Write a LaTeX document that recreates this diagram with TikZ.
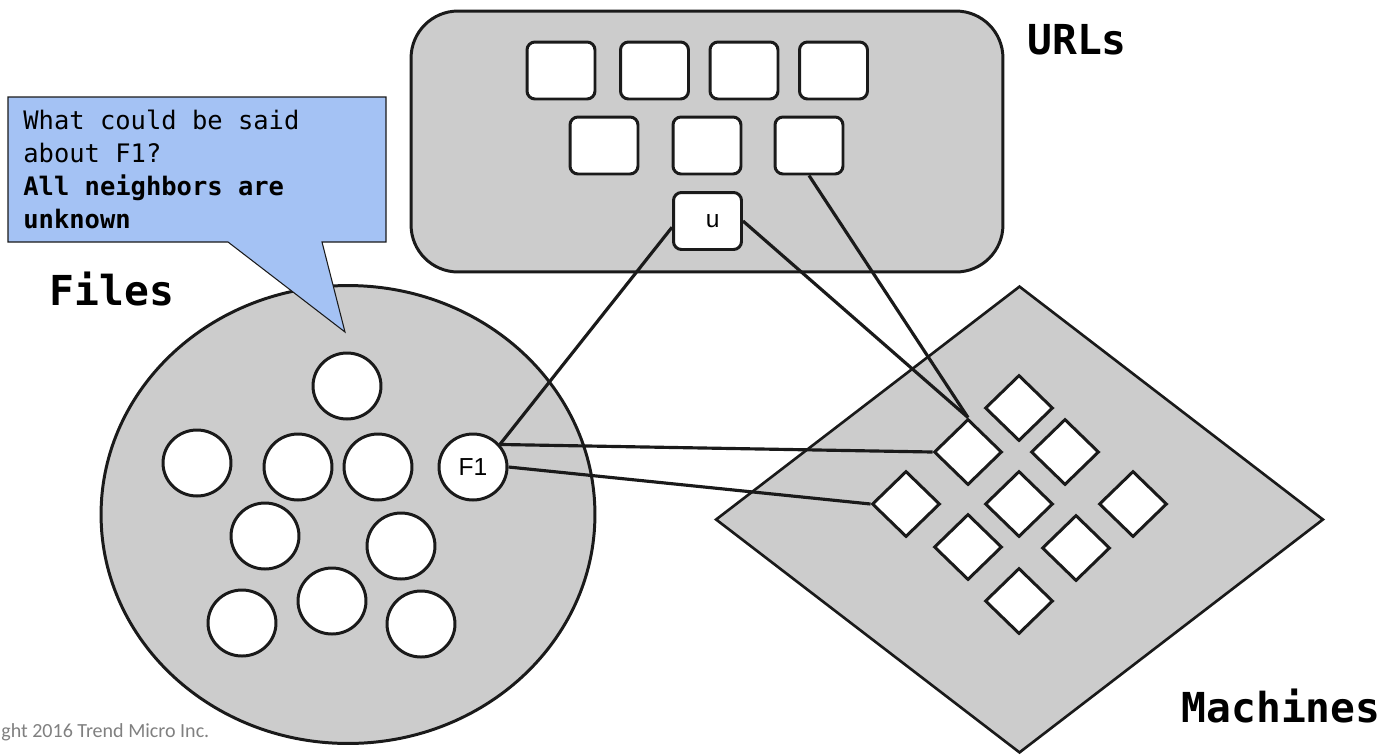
\documentclass[tikz,border=0pt]{standalone}
\usepackage{fontspec}
\setmainfont{Liberation Sans}
\setsansfont{Liberation Sans}
\setmonofont{DejaVu Sans Mono}
\newfontfamily\slidefont{Carlito}
\usetikzlibrary{shapes.geometric}
\definecolor{boxgray}{HTML}{CCCCCC}
\definecolor{notefill}{HTML}{A4C2F4}
\definecolor{inkline}{HTML}{1A1A1A}
\tikzset{every picture/.style={/utils/exec={\sffamily}}}
\tikzset{
  group/.style={draw=inkline, fill=boxgray, line width=1.7pt, inner sep=0pt},
  file/.style={ellipse, draw=inkline, fill=white, line width=1.7pt, inner sep=0pt,
    minimum width=1.36cm, minimum height=1.32cm, font=\fontsize{14}{16}\selectfont},
  url/.style={rectangle, rounded corners=0.16cm, draw=inkline, fill=white, line width=1.7pt,
    inner sep=0pt, minimum width=1.36cm, minimum height=1.14cm, font=\fontsize{14}{16}\selectfont},
  machine/.style={diamond, draw=inkline, fill=white, line width=1.7pt, inner sep=0pt,
    minimum width=1.36cm, minimum height=1.32cm},
  link/.style={draw=inkline, line width=1.8pt},
  title/.style={font=\ttfamily\bfseries\fontsize{23.5}{28}\selectfont}
}

\begin{document}
\begin{tikzpicture}[x=0.02cm, y=-0.02cm]
  \useasboundingbox (0,0) rectangle (1393,755);

  % the three groups
  \node [group, rectangle, rounded corners=0.94cm, minimum width=11.84cm, minimum height=5.22cm] (urls) at (707,141.5) {};
  \node [group, ellipse, minimum width=9.88cm, minimum height=9.16cm] (files) at (348,514.5) {};
  \node [group, diamond, line width=1.5pt, minimum width=12.16cm, minimum height=9.34cm] (machines) at (1019.5,519.5) {};

  % question box
  \draw [draw=inkline, fill=notefill, line width=0.6pt] (8,97) -- (386,97) -- (386,242) -- (322,242) -- (345,332) -- (228,242) -- (8,242) -- cycle;
  \node [anchor=north west, inner sep=0pt, align=left, font=\ttfamily\fontsize{14.5}{18.8}\selectfont] (note) at (23,110)
    {What could be said\\about F1?\\\textbf{All neighbors are}\\\textbf{unknown}};

  \foreach \p [count=\i] in {(561,70.5),(654.5,70.5),(744,70.5),(833.5,70.5),(604,145.5),(707,145.5),(809,145.5)}
    \node [url] (url\i) at \p {};
  \node [url] (u) at (707.5,221) {\hspace{6pt}u};

  \foreach \p [count=\i] in {(347,386),(197,463),(298,467),(378,467),(265,536),(401,546),(242,623),(332,601),(421,624)}
    \node [file] (file\i) at \p {};
  \node [file] (F1) at (473,467) {F1};

  \foreach \p [count=\i] in {(1019,408),(968,452),(1065,452),(906,504),(1019,504),(1133,504),(968,547),(1076,548),(1019,601)}
    \node [machine] (m\i) at \p {};

  \draw [link] (F1.40) -- (u.190);
  \draw [link] (F1.40) -- (m2.west);
  \draw [link] (F1.east) -- (m4.west);
  \draw [link] (u.east) -- (m2.north);
  \draw [link] (url7.south) -- (m2.north);

  \node [title] (urlslabel) at (1077,40) {URLs};
  \node [title] (fileslabel) at (112,289) {Files};
  \node [title] (machineslabel) at (1281,706) {Machines};

  \node [anchor=base west, inner sep=0pt, text=gray, font=\slidefont\fontsize{11.4}{13}\selectfont] (copy) at (1,737) {ght 2016 Trend Micro Inc.};
\end{tikzpicture}
\end{document}
